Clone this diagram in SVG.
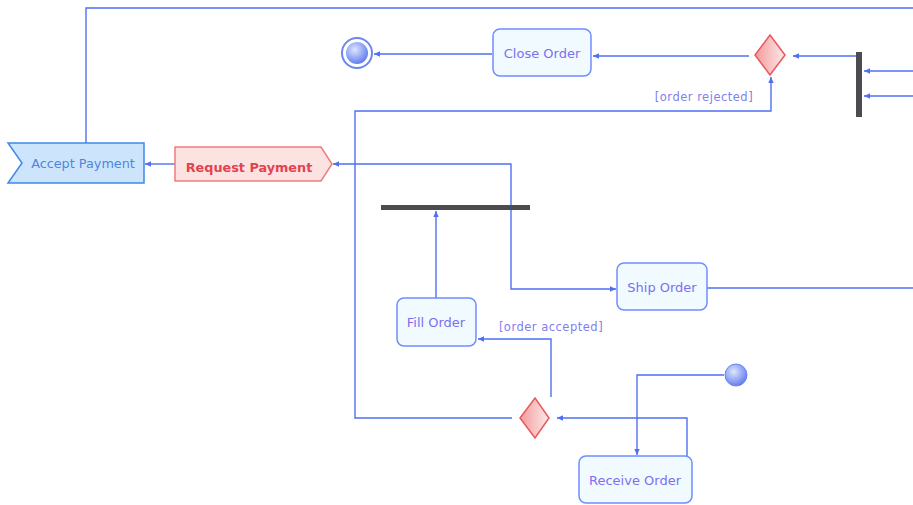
<svg xmlns="http://www.w3.org/2000/svg" width="913" height="505" viewBox="0 0 913 505">
  <style>
    .flow { fill: none; stroke: #4f6ff2; stroke-width: 1.4; }
    .arr { marker-end: url(#head); }
    .action rect { fill: #f1faff; stroke: #6f8dff; stroke-width: 1.5; }
    .action text, .guard { font-family: "DejaVu Sans", Verdana, sans-serif; font-size: 13px; fill: #7c70f0; text-anchor: middle; }
    .guard { font-size: 11.5px; fill: #7f80ee; letter-spacing: 0.5px; }
    .bar { fill: #4b4b52; }
    .decision polygon { fill: url(#pinkGrad); stroke: #e8585c; stroke-width: 1.5; }
  </style>
  <defs>
    <marker id="head" markerWidth="7" markerHeight="7" refX="6" refY="3.5" orient="auto" markerUnits="userSpaceOnUse">
      <path d="M0,0.8 L6,3.5 L0,6.2 z" fill="#4f6ff2"/>
    </marker>
    <linearGradient id="pinkGrad" x1="0" y1="0" x2="1" y2="0">
      <stop offset="0" stop-color="#f39a9c"/>
      <stop offset="1" stop-color="#fde9e9"/>
    </linearGradient>
    <radialGradient id="ballGrad" cx="0.4" cy="0.35" r="0.7">
      <stop offset="0" stop-color="#dfe6ff"/>
      <stop offset="1" stop-color="#5b77ee"/>
    </radialGradient>
  </defs>

  <!-- connectors -->
  <g id="connectors">
    <path class="flow arr" d="M175,164 H145"/>
    <path class="flow" d="M86,143 V8 H913"/>
    <path class="flow arr" d="M511,207 V164 H333"/>
    <path class="flow arr" d="M511,207 V289 H616"/>
    <path class="flow" d="M707,288 H913"/>
    <path class="flow arr" d="M436,298 V211"/>
    <path class="flow arr" d="M551,397 V339 H478"/>
    <path class="flow arr" d="M512,418 H355 V111 H771 V77"/>
    <path class="flow arr" d="M724,375 H637 V455"/>
    <path class="flow arr" d="M687,456 V418 H557"/>
    <path class="flow arr" d="M856,56 H793"/>
    <path class="flow arr" d="M749,56 H593"/>
    <path class="flow arr" d="M492,54 H374"/>
    <path class="flow arr" d="M913,71 H864"/>
    <path class="flow arr" d="M913,96 H864"/>
    <text class="guard" x="704" y="101">[order rejected]</text>
    <text class="guard" x="551" y="331">[order accepted]</text>
  </g>

  <!-- nodes -->
  <g id="accept-payment">
    <polygon points="8,143 144,143 144,183 8,183 22,163" fill="#cde5fc" stroke="#3f88ea" stroke-width="1.5"/>
    <text x="83" y="168" font-family="DejaVu Sans, Verdana, sans-serif" font-size="12.8" fill="#4f86dc" text-anchor="middle">Accept Payment</text>
  </g>
  <g id="request-payment">
    <polygon points="175,147 321,147 332,164 321,181 175,181" fill="#fde2e2" stroke="#ef7b7d" stroke-width="1.5"/>
    <text x="249" y="172" font-family="DejaVu Sans, Verdana, sans-serif" font-size="12.8" font-weight="bold" fill="#e2434f" text-anchor="middle">Request Payment</text>
  </g>
  <g id="final-node">
    <circle cx="357" cy="53" r="15" fill="#ffffff" stroke="#6a86f2" stroke-width="2"/>
    <circle cx="357" cy="53" r="11" fill="url(#ballGrad)"/>
  </g>
  <g id="close-order" class="action">
    <rect x="493" y="29" width="98" height="47" rx="7"/>
    <text x="542" y="58">Close Order</text>
  </g>
  <g id="merge" class="decision">
    <polygon points="770,35 785,55 770,75 755,55"/>
  </g>
  <g id="join">
    <rect class="bar" x="856" y="52" width="6" height="65"/>
  </g>
  <g id="fork">
    <rect class="bar" x="381" y="205" width="149" height="5"/>
  </g>
  <g id="fill-order" class="action">
    <rect x="397" y="298" width="79" height="48" rx="7"/>
    <text x="436" y="327">Fill Order</text>
  </g>
  <g id="ship-order" class="action">
    <rect x="617" y="263" width="90" height="47" rx="7"/>
    <text x="662" y="292">Ship Order</text>
  </g>
  <g id="decision" class="decision">
    <polygon points="535,398 549,418 535,438 520,418"/>
  </g>
  <g id="initial-node">
    <circle cx="736" cy="375" r="11" fill="url(#ballGrad)" stroke="#6a86f2" stroke-width="1"/>
  </g>
  <g id="receive-order" class="action">
    <rect x="579" y="456" width="113" height="47" rx="7"/>
    <text x="635" y="485">Receive Order</text>
  </g>
</svg>
